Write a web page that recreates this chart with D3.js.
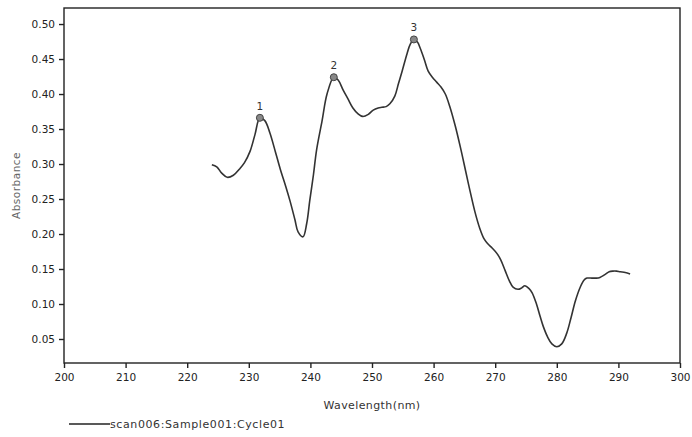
<!DOCTYPE html>
<html>
<head>
<meta charset="utf-8">
<script src="https://cdn.jsdelivr.net/npm/d3@7"></script>
<style>
  body { margin: 0; background: #fff; }
  svg text { font-family: "DejaVu Sans", Verdana, sans-serif; }
</style>
</head>
<body>
<div id="chart"></div>
<script>
// wavelength (nm) and absorbance
const wavelength = [
  224.0, 224.8, 225.6, 226.5, 227.5, 228.5, 229.3, 230.2, 231.0, 231.8,
  232.6, 233.4, 234.3, 235.1, 236.0, 236.7, 237.5, 238.0, 238.8, 239.4,
  239.9, 240.5, 241.0, 241.9, 242.7, 243.8, 244.5, 245.3, 246.1, 246.9,
  247.7, 248.5, 249.4, 250.2, 251.0, 251.6, 252.3, 252.9, 253.7, 254.3,
  254.9, 255.7, 256.2, 256.8, 257.4, 257.8, 258.5, 259.1, 259.8, 260.5,
  261.2, 261.9, 262.6, 263.5, 264.4, 265.2, 265.9, 266.7, 267.5, 268.2,
  268.8, 269.5, 270.3, 270.9, 271.6, 272.3, 272.9, 273.7, 274.3, 274.8,
  275.5, 276.0, 276.7, 277.3, 277.8, 278.5, 279.2, 280.0, 280.8, 281.6,
  282.3, 283.0, 283.8, 284.4, 284.9, 285.7, 286.4, 287.0, 287.8, 288.5,
  289.1, 289.7, 290.3, 291.1, 291.9
];
const absorbance = [
  0.299, 0.296, 0.287, 0.281, 0.284, 0.293, 0.302, 0.318, 0.342, 0.366,
  0.362, 0.345, 0.318, 0.293, 0.268, 0.247, 0.220, 0.203, 0.196, 0.215,
  0.248, 0.285, 0.320, 0.362, 0.400, 0.424, 0.420, 0.406, 0.393, 0.380,
  0.372, 0.368, 0.371, 0.377, 0.380, 0.381, 0.382, 0.386, 0.397, 0.415,
  0.433, 0.458, 0.471, 0.478, 0.474, 0.466, 0.449, 0.433, 0.424, 0.417,
  0.410, 0.400, 0.383, 0.355, 0.322, 0.290, 0.262, 0.232, 0.208, 0.193,
  0.186, 0.180, 0.172, 0.163, 0.148, 0.133, 0.124, 0.121, 0.123, 0.126,
  0.122, 0.116, 0.100, 0.082, 0.068, 0.053, 0.043, 0.039, 0.043, 0.058,
  0.080, 0.104, 0.124, 0.134, 0.137, 0.137, 0.137, 0.138, 0.142, 0.146,
  0.147, 0.147, 0.146, 0.145, 0.143
];

// picked peaks
const peakLabels = ["1", "2", "3"];
const peakWavelength = [231.8, 243.8, 256.8];
const peakAbsorbance = [0.366, 0.424, 0.478];

const xTicks = [200, 210, 220, 230, 240, 250, 260, 270, 280, 290, 300];
const yTicks = [0.05, 0.10, 0.15, 0.20, 0.25, 0.30, 0.35, 0.40, 0.45, 0.50];
const seriesName = "scan006:Sample001:Cycle01";

const W = 692, H = 437;
const PLOT = { LEFT: 64, RIGHT: 680, TOP: 8, BOTTOM: 363 };

const svg = d3.select("#chart").append("svg")
  .attr("width", W)
  .attr("height", H);

const x = d3.scaleLinear().domain([200, 300]).range([PLOT.LEFT, PLOT.RIGHT]);
const y = d3.scaleLinear().domain([0.0157, 0.5229]).range([PLOT.BOTTOM, PLOT.TOP]);

/** frame */
svg.append("rect")
  .attr("x", PLOT.LEFT).attr("y", PLOT.TOP)
  .attr("width", PLOT.RIGHT - PLOT.LEFT)
  .attr("height", PLOT.BOTTOM - PLOT.TOP)
  .attr("fill", "none")
  .attr("stroke", "#222")
  .attr("stroke-width", 1.4);

/** axes */
const xAxis = svg.append("g")
  .attr("transform", `translate(0, ${PLOT.BOTTOM})`)
  .call(d3.axisBottom(x).tickValues(xTicks).tickFormat(d3.format("d")).tickSize(5).tickPadding(6));

const yAxis = svg.append("g")
  .attr("transform", `translate(${PLOT.LEFT}, 0)`)
  .call(d3.axisLeft(y).tickValues(yTicks).tickFormat(d3.format(".2f")).tickSize(5).tickPadding(4));

[xAxis, yAxis].forEach((g) => {
  g.select(".domain").remove();
  g.selectAll(".tick line").attr("stroke", "#222").attr("stroke-width", 1.4);
  g.selectAll(".tick text")
    .attr("fill", "#222")
    .style("font-size", "10.5px")
    .style("font-family", "'DejaVu Sans', Verdana, sans-serif");
});

/** axis titles */
svg.append("text")
  .attr("x", 372).attr("y", 409)
  .attr("text-anchor", "middle")
  .attr("fill", "#333")
  .style("font-size", "11px")
  .style("letter-spacing", "0.4px")
  .text("Wavelength(nm)");

svg.append("text")
  .attr("transform", `translate(20, ${(PLOT.TOP + PLOT.BOTTOM) / 2}) rotate(-90)`)
  .attr("text-anchor", "middle")
  .attr("fill", "#666")
  .style("font-size", "10.5px")
  .style("letter-spacing", "0.5px")
  .text("Absorbance");

/** spectrum */
const points = wavelength.map((w, i) => ({ w: w, a: absorbance[i] }));
const line = d3.line()
  .x((d) => x(d.w))
  .y((d) => y(d.a))
  .curve(d3.curveCatmullRom);

svg.append("path")
  .datum(points)
  .attr("d", line)
  .attr("fill", "none")
  .attr("stroke", "#333")
  .attr("stroke-width", 1.6)
  .attr("stroke-linejoin", "round");

/** peak markers */
const peaks = peakLabels.map((label, i) => ({ label: label, w: peakWavelength[i], a: peakAbsorbance[i] }));

svg.append("g").selectAll("circle")
  .data(peaks)
  .enter()
  .append("circle")
  .attr("cx", (d) => x(d.w))
  .attr("cy", (d) => y(d.a))
  .attr("r", 3.5)
  .attr("fill", "#888")
  .attr("stroke", "#444")
  .attr("stroke-width", 1);

svg.append("g").selectAll("text")
  .data(peaks)
  .enter()
  .append("text")
  .attr("x", (d) => x(d.w))
  .attr("y", (d) => y(d.a) - 8)
  .attr("text-anchor", "middle")
  .attr("fill", "#333")
  .style("font-size", "10.5px")
  .text((d) => d.label);

/** legend */
svg.append("line")
  .attr("x1", 69).attr("x2", 110)
  .attr("y1", 424).attr("y2", 424)
  .attr("stroke", "#222")
  .attr("stroke-width", 1.4);

svg.append("text")
  .attr("x", 110).attr("y", 428)
  .attr("fill", "#333")
  .style("font-size", "11px")
  .style("letter-spacing", "0.6px")
  .text(seriesName);
</script>
</body>
</html>
